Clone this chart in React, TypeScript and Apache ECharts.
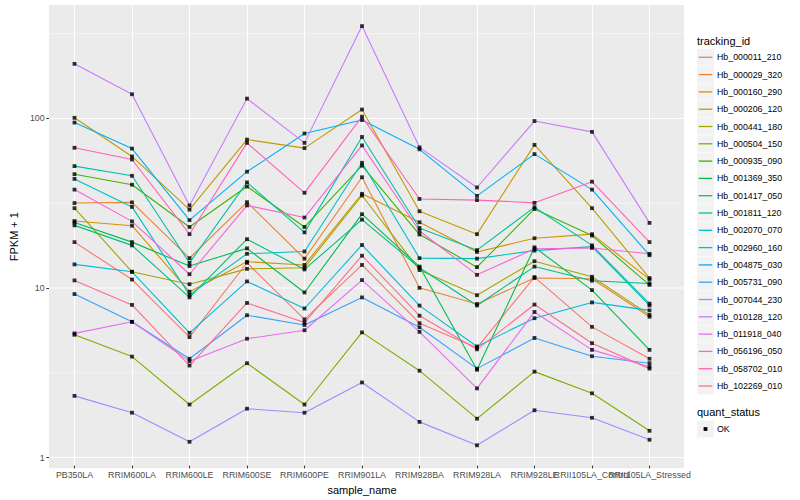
import React, { useEffect, useRef } from 'react';
import * as echarts from 'echarts';

const categories = [
  'PB350LA', 'RRIM600LA', 'RRIM600LE', 'RRIM600SE', 'RRIM600PE', 'RRIM901LA',
  'RRIM928BA', 'RRIM928LA', 'RRIM928LE', 'RRII105LA_Control', 'RRII105LA_Stressed',
];

const trackingIds = [
  'Hb_000011_210', 'Hb_000029_320', 'Hb_000160_290', 'Hb_000206_120', 'Hb_000441_180',
  'Hb_000504_150', 'Hb_000935_090', 'Hb_001369_350', 'Hb_001417_050', 'Hb_001811_120',
  'Hb_002070_070', 'Hb_002960_160', 'Hb_004875_030', 'Hb_005731_090', 'Hb_007044_230',
  'Hb_010128_120', 'Hb_011918_040', 'Hb_056196_050', 'Hb_058702_010', 'Hb_102269_010',
];

const palette = [
  '#F8766D', '#EA8331', '#D89000', '#C09B00', '#A3A500', '#7CAE00', '#39B600', '#00BB4E',
  '#00BF7D', '#00C1A3', '#00BFC4', '#00BAE0', '#00B0F6', '#35A2FF', '#9590FF', '#C77CFF',
  '#E76BF3', '#FA62DB', '#FF62BC', '#FF6C91',
];

// FPKM + 1 values per tracking id, in category order
const hb000011 = [18.3, 10.97, 5.0, 13.8, 6.37, 13.4, 6.05, 4.32, 11.35, 5.75, 3.72];
const hb000029 = [31.2, 31.5, 14.7, 31.6, 14.6, 44.4, 9.8, 7.86, 11.2, 11.1, 6.6];
const hb000160 = [24.4, 22.9, 9.3, 14.0, 13.4, 35.4, 24.0, 16.0, 19.3, 20.4, 11.0];
const hb000206 = [100, 59, 28.5, 74.3, 66.1, 112, 27.9, 20.4, 69.1, 29.1, 11.2];
const hb000441 = [29.1, 12.2, 10.3, 12.7, 12.9, 34.6, 12.5, 8.86, 14.1, 11.4, 6.77];
const hb000504 = [5.16, 3.83, 1.99, 3.5, 1.99, 5.33, 3.16, 1.64, 3.12, 2.32, 1.39];
const hb000935 = [46.3, 40.1, 22.5, 39.1, 22.5, 52, 20.3, 13.0, 28.8, 20.0, 10.2];
const hb001369 = [23.9, 18.3, 13.2, 16.8, 9.2, 26.8, 13.1, 3.2, 17.05, 9.5, 4.2];
const hb001417 = [23.0, 17.5, 8.6, 19.05, 12.6, 24.9, 12.9, 7.7, 13.1, 10.8, 10.4];
const hb001811 = [51.7, 45.3, 13.8, 41.4, 20.9, 77, 22.2, 16.4, 29.5, 17.5, 7.9];
const hb002070 = [43.4, 29.6, 8.9, 15.6, 16.1, 54.1, 14.7, 14.6, 16.3, 17.2, 7.7];
const hb002960 = [13.5, 12.2, 5.3, 10.7, 7.39, 17.6, 7.69, 4.4, 6.47, 8.03, 7.2];
const hb004875 = [93.7, 65.7, 24.7, 47.9, 80.7, 97, 65, 34.4, 60.9, 37.5, 15.3];
const hb005731 = [9.0, 6.16, 3.72, 6.74, 5.9, 8.6, 5.72, 3.25, 4.94, 3.85, 3.5];
const hb007044 = [2.24, 1.78, 1.196, 1.88, 1.78, 2.69, 1.57, 1.14, 1.84, 1.66, 1.23];
const hb010128 = [209, 138, 30.2, 130, 71, 350, 66.8, 38.6, 95.7, 82.5, 23.8];
const hb011918 = [5.26, 6.16, 3.6, 4.89, 5.49, 10.9, 5.37, 2.48, 7.05, 4.2, 3.33];
const hb056196 = [37.5, 24.3, 11.8, 30.2, 25.6, 68.6, 21.3, 11.7, 16.7, 16.9, 15.6];
const hb058702 = [66.4, 56.6, 20.4, 71, 35.9, 101.6, 33, 32.5, 31.3, 41.8, 18.3];
const hb102269 = [10.85, 7.76, 3.39, 7.97, 6.1, 15.2, 6.7, 4.23, 7.8, 4.6, 3.25];

const seriesValues = [
  hb000011, hb000029, hb000160, hb000206, hb000441, hb000504, hb000935, hb001369,
  hb001417, hb001811, hb002070, hb002960, hb004875, hb005731, hb007044, hb010128,
  hb011918, hb056196, hb058702, hb102269,
];

const quantStatus = ['OK'];
const yMajorTicks = [1, 10, 100];
const yMinorTicks = [3.1623, 31.623, 316.23];
const yMin = 0.864;
const yMax = 467;

const FONT = "'Liberation Sans', Arial, Helvetica, sans-serif";

export default function App() {
  const ref = useRef<HTMLDivElement>(null);

  useEffect(() => {
    document.body.style.margin = '0';
    const chart = echarts.init(ref.current as HTMLDivElement, null, { renderer: 'svg' });

    const panel = { left: 40, top: 5, width: 644, height: 463.3 };
    const band = panel.width / (categories.length - 1 + 1.2);
    const dataLeft = panel.left + 0.6 * band;
    const dataWidth = band * (categories.length - 1);

    const gridSeries = [
      ...yMinorTicks.map((v) => ({ v, color: '#F6F6F6', width: 0.8 })),
      ...yMajorTicks.map((v) => ({ v, color: '#FFFFFF', width: 1.1 })),
    ].map((g) => ({
      type: 'line', xAxisIndex: 0, yAxisIndex: 0, data: [[0, g.v], [1, g.v]],
      symbol: 'none', showSymbol: false, silent: true, z: 1,
      lineStyle: { color: g.color, width: g.width },
    }));

    const lineSeries = seriesValues.map((vals, i) => ({
      type: 'line',
      name: trackingIds[i],
      xAxisIndex: 1,
      yAxisIndex: 1,
      data: vals,
      showSymbol: false,
      symbol: 'none',
      silent: true,
      z: 3,
      lineStyle: { color: palette[i], width: 1.1 },
      itemStyle: { color: palette[i] },
    }));

    const pointData: number[][] = [];
    seriesValues.forEach((vals) => vals.forEach((v, j) => pointData.push([j, v])));

    const keyTop = 57.3;
    const keyStep = 17.3;
    const txt = (text: string, x: number, y: number, size: number) => ({
      type: 'text', x, y,
      style: { text, fontSize: size, fontFamily: FONT, fill: '#000',
        align: 'left', verticalAlign: 'middle', textAlign: 'left', textVerticalAlign: 'middle' },
    });
    const legendEls: any[] = [txt('tracking_id', 697, 40.7, 11)];
    trackingIds.forEach((id, i) => {
      const cy = keyTop + i * keyStep;
      legendEls.push({ type: 'rect', shape: { x: 697, y: cy - 8.4, width: 17, height: 16.8 }, style: { fill: '#F2F2F2' } });
      legendEls.push({ type: 'line', shape: { x1: 698.7, y1: cy, x2: 712.3, y2: cy }, style: { stroke: palette[i], lineWidth: 1.3 } });
      legendEls.push(txt(id, 717, cy, 8.8));
    });
    legendEls.push(txt('quant_status', 697, 412, 11));
    quantStatus.forEach((q, i) => {
      const cy = 429 + i * keyStep;
      legendEls.push({ type: 'rect', shape: { x: 697, y: cy - 8.4, width: 17, height: 16.8 }, style: { fill: '#F2F2F2' } });
      legendEls.push({ type: 'rect', shape: { x: 703.6, y: cy - 1.9, width: 3.8, height: 3.8 }, style: { fill: '#000' } });
      legendEls.push(txt(q, 717, cy, 8.8));
    });

    const option: any = {
      animation: false,
      backgroundColor: '#FFFFFF',
      textStyle: { fontFamily: FONT },
      grid: [
        { left: panel.left, top: panel.top, width: panel.width, height: panel.height,
          show: true, backgroundColor: '#EBEBEB', borderWidth: 0, containLabel: false },
        { left: dataLeft, top: panel.top, width: dataWidth, height: panel.height,
          show: false, containLabel: false },
      ],
      xAxis: [
        { type: 'value', gridIndex: 0, min: 0, max: 1, show: false },
        {
          type: 'category', gridIndex: 1, data: categories, boundaryGap: false,
          name: 'sample_name', nameLocation: 'middle', nameGap: 14,
          nameTextStyle: { fontSize: 11, color: '#000', fontFamily: FONT },
          axisLine: { show: false },
          axisTick: { show: true, length: 2.75, lineStyle: { color: '#333333', width: 1 } },
          axisLabel: { interval: 0, hideOverlap: false, fontSize: 8.8, color: '#4D4D4D', margin: 4.5, fontFamily: FONT },
          splitLine: { show: true, lineStyle: { color: '#FFFFFF', width: 1.1 } },
        },
      ],
      yAxis: [
        {
          type: 'log', logBase: 10, gridIndex: 0, min: yMin, max: yMax,
          name: 'FPKM + 1', nameLocation: 'middle', nameGap: 21,
          nameTextStyle: { fontSize: 11, color: '#000', fontFamily: FONT },
          axisLine: { show: false },
          axisTick: { show: true, length: 2.75, customValues: yMajorTicks, lineStyle: { color: '#333333', width: 1 } },
          axisLabel: { fontSize: 8.8, color: '#4D4D4D', margin: 4.5, fontFamily: FONT,
            customValues: yMajorTicks, showMinLabel: true, showMaxLabel: true },
          splitLine: { show: false },
        },
        { type: 'log', logBase: 10, gridIndex: 1, min: yMin, max: yMax, show: false,
          splitLine: { show: false } },
      ],
      series: [
        ...gridSeries,
        ...lineSeries,
        {
          type: 'scatter', name: 'OK', xAxisIndex: 1, yAxisIndex: 1, data: pointData,
          symbol: 'rect', symbolSize: 3.8, itemStyle: { color: '#000000' }, silent: true, z: 4,
        },
      ],
      graphic: { elements: legendEls },
    };

    chart.setOption(option);
    return () => chart.dispose();
  }, []);

  return <div ref={ref} style={{ width: 800, height: 500 }} />;
}
